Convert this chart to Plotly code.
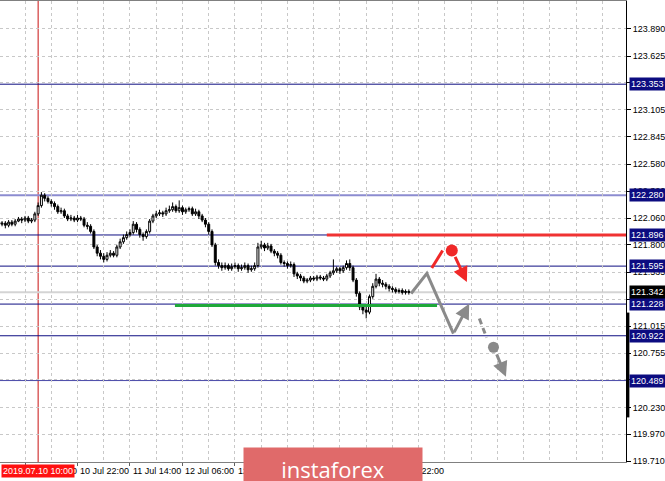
import plotly.graph_objects as go

# ---------------- data ----------------
bar_index = list(range(126))
opens = [122.02,122.00,122.01,121.99,122.02,122.00,122.03,122.05,122.04,122.06,
 122.03,122.04,122.10,122.18,122.28,122.25,122.22,122.20,122.17,122.12,
 122.13,122.08,122.05,122.06,122.04,122.06,122.05,121.99,121.98,121.93,
 121.78,121.72,121.69,121.66,121.70,121.72,121.70,121.78,121.83,121.87,
 121.90,121.92,122.00,121.95,121.90,121.88,121.93,122.03,122.08,122.10,
 122.11,122.10,122.13,122.14,122.17,122.13,122.16,122.12,122.14,122.15,
 122.10,122.12,122.08,122.04,122.00,121.93,121.80,121.63,121.60,121.58,
 121.60,121.57,121.59,121.60,121.57,121.58,121.60,121.56,121.57,121.60,
 121.78,121.80,121.77,121.79,121.74,121.72,121.70,121.63,121.62,121.60,
 121.61,121.52,121.50,121.48,121.45,121.46,121.48,121.47,121.49,121.48,
 121.47,121.50,121.53,121.55,121.57,121.55,121.58,121.62,121.58,121.46,
 121.33,121.20,121.17,121.15,121.30,121.40,121.47,121.43,121.42,121.40,
 121.38,121.37,121.35,121.36,121.34,121.35]
closes = [122.00,122.01,121.99,122.02,122.00,122.03,122.05,122.04,122.06,122.03,
 122.04,122.10,122.18,122.28,122.25,122.22,122.20,122.17,122.12,122.13,
 122.08,122.05,122.06,122.04,122.06,122.05,121.99,121.98,121.93,121.78,
 121.72,121.69,121.66,121.70,121.72,121.70,121.78,121.83,121.87,121.90,
 121.92,122.00,121.95,121.90,121.88,121.93,122.03,122.08,122.10,122.11,
 122.10,122.13,122.14,122.17,122.13,122.16,122.12,122.14,122.15,122.10,
 122.12,122.08,122.04,122.00,121.93,121.80,121.63,121.60,121.58,121.60,
 121.57,121.59,121.60,121.57,121.58,121.60,121.56,121.57,121.60,121.78,
 121.80,121.77,121.79,121.74,121.72,121.70,121.63,121.62,121.60,121.61,
 121.52,121.50,121.48,121.45,121.46,121.48,121.47,121.49,121.48,121.47,
 121.50,121.53,121.55,121.57,121.55,121.58,121.62,121.58,121.46,121.33,
 121.20,121.17,121.15,121.30,121.40,121.47,121.43,121.42,121.40,121.38,
 121.37,121.35,121.36,121.34,121.35,121.342]
highs = [122.04,122.03,122.03,122.04,122.04,122.05,122.07,122.07,122.08,122.08,
 122.06,122.12,122.21,122.31,122.30,122.27,122.24,122.22,122.19,122.16,
 122.15,122.10,122.09,122.08,122.09,122.08,122.07,122.02,122.00,121.95,
 121.80,121.75,121.72,121.73,121.75,121.74,121.80,121.86,121.90,121.93,
 121.95,122.03,122.02,121.97,121.92,121.95,122.05,122.10,122.13,122.14,
 122.13,122.16,122.18,122.21,122.19,122.23,122.18,122.16,122.17,122.17,
 122.15,122.14,122.10,122.06,122.02,121.95,121.82,121.66,121.63,121.63,
 121.62,121.62,121.63,121.62,121.61,121.63,121.62,121.60,121.63,121.82,
 121.84,121.82,121.82,121.81,121.76,121.74,121.72,121.65,121.64,121.64,
 121.63,121.54,121.52,121.50,121.48,121.50,121.50,121.51,121.51,121.50,
 121.52,121.55,121.66,121.59,121.59,121.60,121.65,121.66,121.60,121.48,
 121.35,121.22,121.20,121.32,121.43,121.52,121.49,121.46,121.44,121.42,
 121.40,121.39,121.38,121.38,121.37,121.37]
lows = [121.97,121.98,121.96,121.97,121.98,121.98,122.02,122.01,122.02,122.01,
 122.01,122.02,122.08,122.16,122.22,122.20,122.17,122.14,122.10,122.10,
 122.06,122.03,122.03,122.02,122.02,122.03,121.97,121.95,121.91,121.76,
 121.69,121.66,121.63,121.64,121.68,121.68,121.68,121.76,121.81,121.85,
 121.88,121.90,121.92,121.87,121.84,121.86,121.91,122.01,122.06,122.08,
 122.07,122.08,122.11,122.12,122.11,122.11,122.09,122.10,122.12,122.08,
 122.08,122.05,122.02,121.97,121.90,121.78,121.60,121.57,121.55,121.56,
 121.55,121.55,121.57,121.54,121.55,121.56,121.53,121.54,121.55,121.58,
 121.76,121.74,121.75,121.72,121.69,121.67,121.61,121.59,121.57,121.58,
 121.49,121.47,121.45,121.43,121.43,121.44,121.45,121.45,121.46,121.45,
 121.45,121.48,121.51,121.53,121.52,121.53,121.56,121.55,121.44,121.30,
 121.17,121.13,121.09,121.13,121.28,121.38,121.40,121.39,121.37,121.35,
 121.34,121.33,121.33,121.32,121.32,121.32]

# time axis labels (every 16 bars of H1)
tick_bars = [8, 24, 40, 56, 72, 88, 104, 120]
tick_labels = ["10 Jul 06:00", "10 Jul 22:00", "11 Jul 14:00", "12 Jul 06:00",
               "12 Jul 22:00", "15 Jul 14:00", "16 Jul 06:00", "16 Jul 22:00"]
crosshair_bar = 12
crosshair_label = "2019.07.10 10:00"

# price scale labels
price_ticks = [123.890, 123.625, 123.365, 123.105, 122.845, 122.580, 122.320,
               122.060, 121.800, 121.535, 121.275, 121.015, 120.755, 120.495,
               120.230, 119.970, 119.710]

# horizontal levels
level_prices = [123.353, 122.280, 121.896, 121.595, 121.228, 120.922, 120.489]
bid_price = 121.342
resistance_price = 121.896
resistance_start_bar = 100
support_price = 121.215
support_bars = [53.7, 133.6]

# forecast drawing
gray_path_bars = [125.7, 130.5, 138.6]
gray_path_prices = [121.33, 121.525, 120.943]
gray_arrow1 = [138.6, 120.943, 143.4, 121.232]
gray_dash_bars = [146.5, 148.7]
gray_dash_prices = [121.088, 120.904]
gray_dot = [150.8, 120.811]
gray_arrow2 = [151.6, 120.756, 154.6, 120.525]
red_seg_bars = [132.0, 135.3]
red_seg_prices = [121.576, 121.746]
red_dot = [138.1, 121.746]
red_arrow = [138.9, 121.698, 142.7, 121.441]

NAVY = "#0e0e82"
FONT = "Liberation Sans"

fig = go.Figure()

fig.add_trace(go.Candlestick(
    x=bar_index, open=opens, high=highs, low=lows, close=closes,
    increasing=dict(fillcolor="white", line=dict(color="black", width=1)),
    decreasing=dict(fillcolor="black", line=dict(color="black", width=1)),
    whiskerwidth=0, showlegend=False, hoverinfo="skip"))

shapes = []
# crosshair vertical
shapes.append(dict(type="line", xref="x", yref="paper", x0=crosshair_bar, x1=crosshair_bar,
                   y0=0, y1=1, line=dict(color="#c81010", width=1), layer="below"))
# level lines
for p in level_prices:
    if abs(p - 122.280) < 1e-6:
        ln = dict(color="#8c8cd0", width=2)
    elif abs(p - 120.489) < 1e-6:
        ln = dict(color="#4a4aa8", width=1)
    else:
        ln = dict(color=NAVY, width=1)
    shapes.append(dict(type="line", xref="paper", yref="y", x0=0, x1=1, y0=p, y1=p,
                       line=ln, layer="below"))
# bid line
shapes.append(dict(type="line", xref="paper", yref="y", x0=0, x1=1, y0=bid_price, y1=bid_price,
                   line=dict(color="#d4d4d4", width=2), layer="below"))
# resistance red line
shapes.append(dict(type="line", xref="x", yref="y", x0=resistance_start_bar, x1=192,
                   y0=resistance_price, y1=resistance_price,
                   line=dict(color="#f03232", width=3)))
# support green line
shapes.append(dict(type="line", xref="x", yref="y", x0=support_bars[0], x1=support_bars[1],
                   y0=support_price, y1=support_price,
                   line=dict(color="#1fa83a", width=3)))
# right axis bar
shapes.append(dict(type="line", xref="paper", yref="y", x0=1.003, x1=1.003,
                   y0=121.146, y1=120.133, line=dict(color="black", width=3)))
fig.update_layout(shapes=shapes)

# gray path
fig.add_trace(go.Scatter(x=gray_path_bars, y=gray_path_prices, mode="lines",
                         line=dict(color="#8a8a8a", width=3), showlegend=False, hoverinfo="skip"))
fig.add_trace(go.Scatter(x=gray_dash_bars, y=gray_dash_prices, mode="lines",
                         line=dict(color="#8a8a8a", width=3, dash="6px,4px"),
                         showlegend=False, hoverinfo="skip"))
fig.add_trace(go.Scatter(x=[gray_dot[0]], y=[gray_dot[1]], mode="markers",
                         marker=dict(color="#8a8a8a", size=11), showlegend=False, hoverinfo="skip"))
fig.add_trace(go.Scatter(x=red_seg_bars, y=red_seg_prices, mode="lines",
                         line=dict(color="#f02828", width=3), showlegend=False, hoverinfo="skip"))
fig.add_trace(go.Scatter(x=[red_dot[0]], y=[red_dot[1]], mode="markers",
                         marker=dict(color="#f02828", size=12), showlegend=False, hoverinfo="skip"))

annotations = []
for a, col in [(gray_arrow1, "#8a8a8a"), (gray_arrow2, "#8a8a8a"), (red_arrow, "#f02828")]:
    annotations.append(dict(x=a[2], y=a[3], ax=a[0], ay=a[1], xref="x", yref="y",
                            axref="x", ayref="y", text="", showarrow=True,
                            arrowhead=2, arrowsize=1, arrowwidth=3, arrowcolor=col))

# time labels
for b, t in zip(tick_bars, tick_labels):
    annotations.append(dict(x=b, y=0, xref="x", yref="paper", yanchor="top", xanchor="left",
                            xshift=1, yshift=-2, text=t, showarrow=False,
                            font=dict(family=FONT, size=9, color="black")))
annotations.append(dict(x=crosshair_bar, y=0, xref="x", yref="paper", yanchor="top", xanchor="center",
                        yshift=-2, text=crosshair_label, showarrow=False, bgcolor="#ff1010",
                        borderpad=1, font=dict(family=FONT, size=9, color="white")))

# price tags
for p in level_prices:
    annotations.append(dict(x=1, y=p, xref="paper", yref="y", xanchor="left", yanchor="middle",
                            xshift=3, text=f"{p:.3f}", showarrow=False, bgcolor="#0c0c80",
                            borderpad=1, font=dict(family=FONT, size=9, color="white")))
annotations.append(dict(x=1, y=bid_price, xref="paper", yref="y", xanchor="left", yanchor="middle",
                        xshift=3, text=f"{bid_price:.3f}", showarrow=False, bgcolor="black",
                        borderpad=1, font=dict(family=FONT, size=9, color="white")))

# watermark
annotations.append(dict(x=0.532, y=0.033, xref="paper", yref="paper", xanchor="center", yanchor="top",
                        text="instaforex", showarrow=False, bgcolor="#e06a6a",
                        width=176, height=40, align="center", valign="middle",
                        font=dict(family="Open Sans", size=22, color="white")))

fig.update_layout(
    annotations=annotations,
    width=665, height=481,
    margin=dict(l=0, r=39, t=1, b=19),
    paper_bgcolor="white", plot_bgcolor="white",
    boxgap=0.15,
    xaxis=dict(range=[0.378, 191.2], rangeslider=dict(visible=False),
               tickvals=tick_bars, ticktext=["" for _ in tick_bars],
               ticks="outside", ticklen=3, tickcolor="#606060",
               showgrid=False, zeroline=False,
               showline=True, linecolor="#808080", linewidth=1, mirror=True,
               minor=dict(dtick=8, tick0=0, showgrid=True, gridcolor="#c8c8c8",
                          griddash="3px,3px", gridwidth=1)),
    yaxis=dict(range=[119.702, 124.157], side="right",
               tickvals=price_ticks, ticktext=[f"{v:.3f}" for v in price_ticks],
               ticks="outside", ticklen=4, tickcolor="black",
               tickfont=dict(family=FONT, size=9, color="black"),
               showgrid=True, gridcolor="#c8c8c8", griddash="3px,3px", gridwidth=1,
               zeroline=False, showline=True, linecolor="black", linewidth=1),
)

fig.write_html("out.html", config={"displayModeBar": False},
               post_script="document.body.style.margin='0';document.body.style.overflow='hidden';")
